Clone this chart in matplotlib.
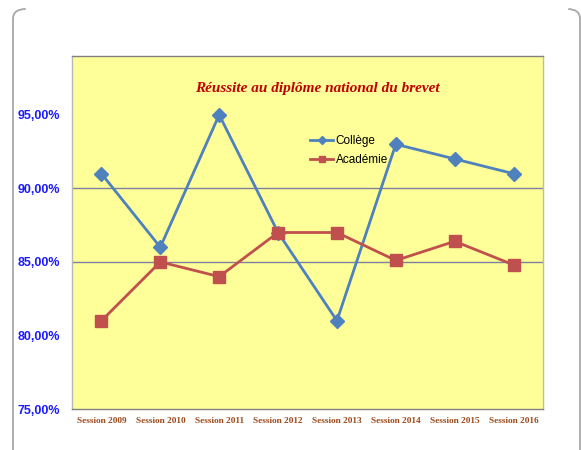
import matplotlib
matplotlib.use("Agg")
import matplotlib.pyplot as plt
from matplotlib.patches import FancyBboxPatch
from matplotlib.lines import Line2D
from matplotlib.ticker import FuncFormatter

categories = ["Session 2009", "Session 2010", "Session 2011", "Session 2012",
              "Session 2013", "Session 2014", "Session 2015", "Session 2016"]
college = [91.0, 86.0, 95.0, 87.0, 81.0, 93.0, 92.0, 91.0]
academie = [81.0, 85.0, 84.0, 87.0, 87.0, 85.1, 86.4, 84.8]
y_ticks = [75, 80, 85, 90, 95]
grid_levels = [85, 90]
title = "Réussite au diplôme national du brevet"

W, H = 581, 450
fig = plt.figure(figsize=(W / 100, H / 100), dpi=100)
fig.patch.set_facecolor("white")

# rounded outer frame (extends below the figure bottom)
frame = FancyBboxPatch((13 / W, -20 / H), 567 / W, 461 / H,
                       boxstyle="round,pad=0,rounding_size=0.022",
                       transform=fig.transFigure, facecolor="none",
                       edgecolor="#a8a8a8", linewidth=1.3, zorder=-2)
fig.patches.append(frame)
# top straight edge of the frame is not visible in the reference
fig.lines.append(Line2D([27 / W, 566 / W], [(H - 9) / H, (H - 9) / H],
                        transform=fig.transFigure, color="white",
                        linewidth=2.5, zorder=-1))

ax = fig.add_axes([72 / W, 1 - 409 / H, 471 / W, 353 / H])
ax.set_facecolor("#FFFF99")
x = list(range(len(categories)))

for g in grid_levels:
    ax.axhline(g, color="#7F7F9F", linewidth=1.0, zorder=1)

ax.plot(x, college, color="#4F81BD", linewidth=2.0, marker="D", markersize=7,
        label="Collège", zorder=3)
ax.plot(x, academie, color="#C0504D", linewidth=2.0, marker="s", markersize=8,
        label="Académie", zorder=3)

ax.set_xlim(-0.5, len(categories) - 0.5)
ax.set_ylim(75, 99)
ax.set_yticks(y_ticks)
ax.yaxis.set_major_formatter(FuncFormatter(lambda v, p: f"{v:.2f}%".replace(".", ",")))
ax.set_xticks(x)
ax.set_xticklabels(categories)
ax.tick_params(axis="both", length=0)
ax.tick_params(axis="y", pad=8.5)
ax.tick_params(axis="x", pad=6)
for lab in ax.get_yticklabels():
    lab.set_fontfamily("Liberation Sans")
    lab.set_fontweight("bold")
    lab.set_fontsize(9)
    lab.set_color("#1A1AFF")
for lab in ax.get_xticklabels():
    lab.set_fontfamily("Liberation Serif")
    lab.set_fontweight("bold")
    lab.set_fontsize(6.7)
    lab.set_color("#9C4A1A")

ax.spines["top"].set_color("#808080")
ax.spines["bottom"].set_color("#808080")
ax.spines["left"].set_color("#b8b8b8")
ax.spines["right"].set_color("#c0c090")
for s in ax.spines.values():
    s.set_linewidth(1.0)

ax.text(0.52, 0.908, title, transform=ax.transAxes, ha="center", va="center",
        fontfamily="Liberation Serif", fontstyle="italic", fontweight="bold",
        fontsize=11, color="#C00000")

leg = ax.legend(loc="upper left", bbox_to_anchor=(0.505, 0.776), frameon=False,
                prop={"family": "Liberation Sans", "size": 8.5},
                handlelength=2.0, handletextpad=0.2, labelspacing=0.62,
                markerscale=0.6, borderaxespad=0, borderpad=0)

fig.savefig("out.png", dpi=100)
